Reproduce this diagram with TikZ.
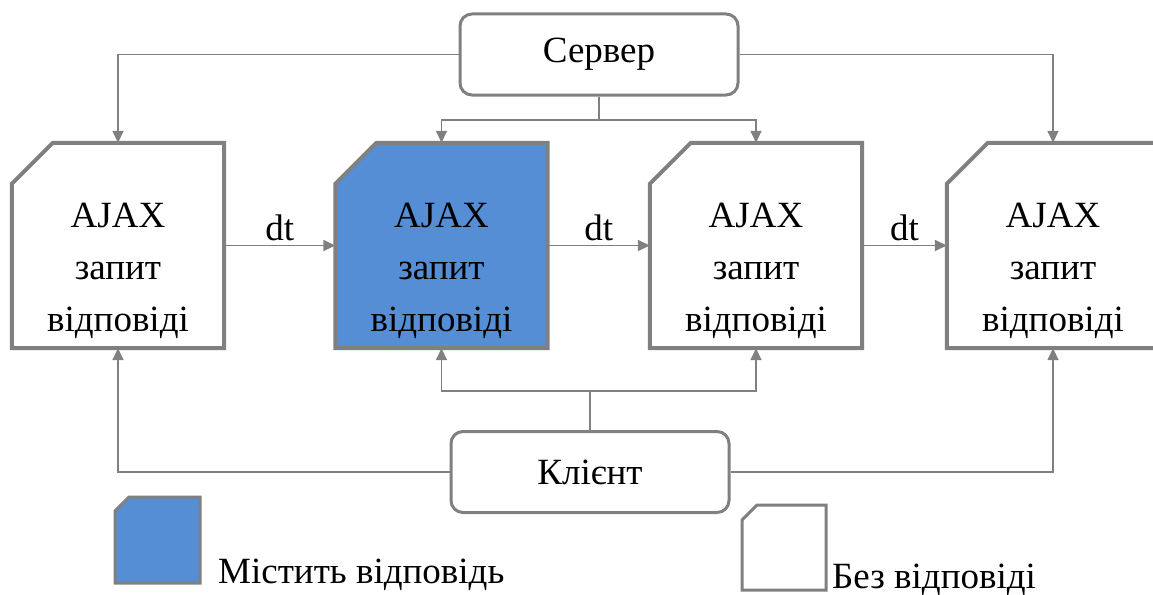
\documentclass[tikz,border=0pt]{standalone}
\usepackage{fontspec}
\setmainfont{Liberation Serif}
\usetikzlibrary{arrows.meta,backgrounds}
\definecolor{linegray}{HTML}{808080}
\definecolor{fillblue}{HTML}{558ED5}
\tikzset{
  big/.style={font=\fontsize{37}{52}\selectfont},
  docshape/.style={rectangle,minimum width=212pt,minimum height=205pt,inner sep=0pt},
  doctext/.style={big,align=center,inner sep=0pt},
  docline/.style={draw=linegray,line width=4pt,line join=miter},
  endbox/.style={draw=linegray,line width=3pt,rounded corners=12pt,fill=white,
    minimum width=278pt,minimum height=81pt,big,inner sep=0pt},
  conn/.style={draw=linegray,line width=1.6pt},
  arr/.style={conn,-{Triangle[length=12pt,width=11pt]}},
  legline/.style={draw=linegray,line width=3pt,line join=miter}
}
% cut-corner document outline around a node, drawn behind its text
\newcommand\docoutline[3]{% node, chamfer, fill
  \begin{scope}[on background layer]
    \path[docline,fill=#3] ([yshift=-#2]#1.north west) -- ([xshift=#2]#1.north west)
      -- (#1.north east) -- (#1.south east) -- (#1.south west) -- cycle;
  \end{scope}}
\begin{document}
\begin{tikzpicture}[x=1pt,y=-1pt]
\useasboundingbox (0,0) rectangle (1153,594);
\begin{scope}[on background layer]
  \fill[white] (0,0) rectangle (1153,594);
\end{scope}

% request boxes
\node[docshape] (b1) at (118,245.5) {};
\node[docshape] (b2) at (441.5,245.5) {};
\node[docshape] (b3) at (756,245.5) {};
\node[docshape] (b4) at (1053,245.5) {};
\docoutline{b1}{41pt}{white}
\docoutline{b2}{41pt}{fillblue}
\docoutline{b3}{41pt}{white}
\docoutline{b4}{41pt}{white}
\node[doctext] (t1) at (118,271) {AJAX\\запит\\відповіді};
\node[doctext] (t2) at (441.5,271) {AJAX\\запит\\відповіді};
\node[doctext] (t3) at (756,271) {AJAX\\запит\\відповіді};
\node[doctext] (t4) at (1053,271) {AJAX\\запит\\відповіді};

% server and client
\node[endbox] (srv) at (599,54.5) {Сервер};
\node[endbox] (cl) at (590,472) {Клієнт};

% time steps
\draw[arr] (b1.east) -- node[above=1pt,big] (dt1) {dt} (b2.west);
\draw[arr] (b2.east) -- node[above=1pt,big] (dt2) {dt} (b3.west);
\draw[arr] (b3.east) -- node[above=1pt,big] (dt3) {dt} (b4.west);

% server links
\draw[arr] (srv.west) -| (b1.north);
\draw[arr] (srv.east) -| (b4.north);
\draw[conn] (srv.south) -- ++(0,23.5) coordinate (sj);
\draw[arr] (sj) -| (b2.north);
\draw[arr] (sj) -| (b3.north);

% client links
\draw[arr] (cl.west) -| (b1.south);
\draw[arr] (cl.east) -| (b4.south);
\draw[conn] (cl.north) -- ++(0,-39) coordinate (cj);
\draw[arr] (cj) -| (b2.south);
\draw[arr] (cj) -| (b3.south);

% legend
\path[legline,fill=fillblue] (115,511) -- (129,497) -- (200,497) -- (200,583) -- (115,583) -- cycle;
\node[big,anchor=base west,inner sep=0pt] (leg1) at (218,583) {Містить відповідь};
\path[legline,fill=white] (742,520) -- (757,505) -- (826,505) -- (826,590) -- (742,590) -- cycle;
\node[big,anchor=base west,inner sep=0pt] (leg2) at (832,588) {Без відповіді};
\end{tikzpicture}
\end{document}
